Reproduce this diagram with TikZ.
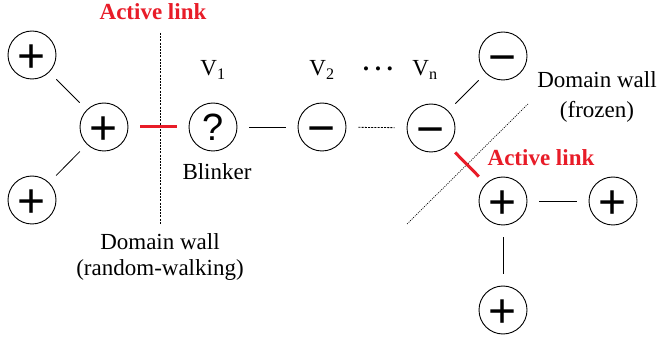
\documentclass[tikz,border=0pt]{standalone}
\usepackage{fontspec}
\setmainfont{Liberation Serif}
\newfontfamily\symfont{Liberation Sans}
\definecolor{linkred}{RGB}{232,28,40}
\newcommand{\spinlbl}[1]{\smash{\raisebox{-0.36em}{#1}}}
\begin{document}
\begin{tikzpicture}[x=1pt,y=-1pt,
  spin/.style={circle,draw,line width=0.9pt,minimum size=48pt,inner sep=0pt,
    font=\symfont\fontsize{48}{48}\selectfont},
  lbl/.style={font=\fontsize{23}{27}\selectfont,inner sep=0pt},
  activelbl/.style={font=\bfseries\fontsize{23}{27}\selectfont,text=linkred,inner sep=0pt},
  link/.style={line width=0.8pt,shorten <=12pt,shorten >=12pt},
  redlink/.style={line width=3pt,draw=linkred},
  wall/.style={line width=0.7pt,dash pattern=on 2pt off 1.2pt},
  frozenwall/.style={line width=0.7pt,dash pattern=on 1pt off 1.2pt}
]
\useasboundingbox (0,0) rectangle (659,339);
% spins
\node[spin] (tl) at (32,55) {\spinlbl{+}};
\node[spin] (c) at (104,127) {\spinlbl{+}};
\node[spin] (bl) at (32,200) {\spinlbl{+}};
\node[spin,font=\symfont\fontsize{38}{38}\selectfont] (q) at (213,127) {\spinlbl{?}};
\node[spin] (v2) at (322,127) {\spinlbl{−}};
\node[spin] (vn) at (431,128) {\spinlbl{−}};
\node[spin] (tr) at (503,56) {\spinlbl{−}};
\node[spin] (rp) at (503,201) {\spinlbl{+}};
\node[spin] (fr) at (613,201) {\spinlbl{+}};
\node[spin] (bp) at (503,310) {\spinlbl{+}};
% domain walls
\coordinate (w1a) at (160,33);
\coordinate (w1b) at (160,224);
\draw[wall] (w1a) -- (w1b);
\coordinate (w2a) at (528,104);
\coordinate (w2b) at (407,224);
\draw[frozenwall] (w2a) -- (w2b);
% connectors
\draw[link,shorten <=10pt,shorten >=10pt] (tl) -- (c);
\draw[link,shorten <=10pt,shorten >=10pt] (bl) -- (c);
\draw[redlink,shorten <=12pt,shorten >=12pt] (c) -- (q);
\draw[link] (q) -- (v2);
\draw[link,dash pattern=on 2pt off 1.2pt] (v2) -- (vn);
\draw[link,shorten <=10pt,shorten >=10pt] (vn) -- (tr);
\draw[redlink,shorten <=10pt,shorten >=10pt] (vn) -- (rp);
\draw[link] (rp) -- (fr);
\draw[link] (rp) -- (bp);
% labels
\node[activelbl] (al1) at (153,12) {Active link};
\node[activelbl] (al2) at (541,158) {Active link};
\node[lbl] (l1) at (213,70) {V\textsubscript{1}};
\node[lbl] (l2) at (322,70) {V\textsubscript{2}};
\node[lbl] (ldots) at (378,71) {\fontsize{17}{17}\selectfont •\hspace{6pt}•\hspace{6pt}•};
\node[lbl] (ln) at (425,70) {V\textsubscript{n}};
\node[lbl] (blk) at (217,172) {Blinker};
\node[lbl] (dw1) at (160,242) {Domain wall};
\node[lbl] (dw1b) at (160,270) {(random-walking)};
\node[lbl] (dw2) at (597,80) {Domain wall};
\node[lbl] (dw2b) at (597,112) {(frozen)};
\end{tikzpicture}
\end{document}
